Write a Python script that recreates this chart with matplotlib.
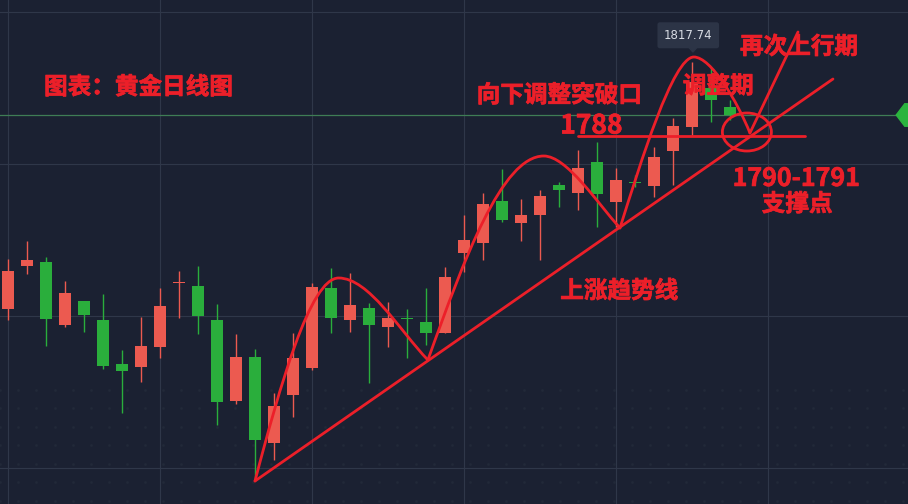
import numpy as np
import matplotlib.pyplot as plt
import matplotlib.patheffects as pe
from matplotlib.patches import Ellipse, Polygon, PathPatch
from matplotlib.path import Path

plt.rcParams['font.family'] = ['Noto Sans CJK SC', 'DejaVu Sans']

# daily candles (open, high, low, close)
opens = [1718.8, 1736.0, 1737.6, 1712.4, 1722.0, 1714.4, 1696.8, 1695.6, 1703.6, 1729.2,
         1728.0, 1714.4, 1682.0, 1699.6, 1665.2, 1684.4, 1695.2, 1727.2, 1714.4, 1719.2,
         1711.6, 1714.9, 1713.6, 1709.2, 1741.2, 1745.2, 1762.0, 1753.2, 1756.4, 1768.4,
         1765.2, 1777.6, 1761.6, 1769.3, 1768.0, 1782.0, 1791.6, 1807.2, 1799.6]
highs = [1738.8, 1746.0, 1739.6, 1730.0, 1722.0, 1724.8, 1702.4, 1715.6, 1727.2, 1734.0,
         1736.0, 1720.8, 1708.8, 1702.8, 1685.2, 1709.2, 1729.2, 1735.2, 1733.2, 1721.2,
         1721.6, 1718.8, 1727.2, 1735.6, 1756.4, 1765.2, 1774.8, 1762.8, 1766.4, 1769.6,
         1782.4, 1785.6, 1775.2, 1772.4, 1783.6, 1795.2, 1817.74, 1815.6, 1802.4]
lows = [1714.4, 1732.8, 1704.0, 1711.6, 1709.6, 1694.8, 1677.2, 1689.6, 1699.2, 1715.2,
        1708.8, 1672.4, 1680.8, 1650.0, 1658.4, 1675.6, 1694.4, 1709.2, 1709.6, 1689.2,
        1703.6, 1699.2, 1704.4, 1709.2, 1733.6, 1738.4, 1753.6, 1746.0, 1738.4, 1759.6,
        1758.4, 1751.6, 1751.6, 1767.6, 1763.6, 1768.4, 1788.4, 1793.6, 1794.4]
closes = [1734.0, 1738.4, 1714.8, 1725.2, 1716.4, 1696.0, 1694.0, 1704.0, 1720.0, 1729.4,
          1716.0, 1681.6, 1699.6, 1666.4, 1680.0, 1699.2, 1727.6, 1715.2, 1720.4, 1712.4,
          1715.2, 1714.8, 1709.2, 1731.6, 1746.4, 1760.8, 1754.4, 1756.4, 1764.0, 1766.4,
          1775.2, 1764.8, 1770.4, 1769.2, 1779.6, 1792.0, 1809.6, 1802.4, 1796.4]
last_price = 1796.4
tip_price = 1817.74
grid_prices = [1655.2, 1716.0, 1776.8, 1837.6]

# hand drawn arches: start, ctrl, ctrl, peak, ctrl, ctrl, end  (candle index, price)
arch1 = [(13.0, 1650.0), (14.3, 1687.6), (15.9, 1731.2), (17.4, 1731.2),
         (19.0, 1731.2), (20.6, 1710.3), (22.1, 1698.4)]
arch2 = [(22.1, 1698.4), (24.0, 1738.7), (26.0, 1780.0), (28.2, 1780.0),
         (29.4, 1780.0), (31.0, 1761.4), (32.21, 1751.2)]
arch3 = [(32.21, 1751.2), (33.3, 1777.4), (35.0, 1819.6), (36.1, 1819.6),
         (37.0, 1819.6), (38.4, 1801.7), (39.05, 1789.2)]
up_x = [39.05, 41.58]
up_y = [1789.2, 1829.6]
trend_x = [13.0, 43.42]
trend_y = [1650.0, 1810.8]
level_x = [30.0, 41.95]
level_y = [1788.0, 1788.0]

bg = '#1b2132'
up_col = '#ec5a50'
dn_col = '#2aae3c'
mark = '#ec1f29'

fig = plt.figure(figsize=(9.08, 5.04), dpi=100)
fig.patch.set_facecolor(bg)
ax = fig.add_axes([0, 0, 1, 1])
ax.set_facecolor(bg)
ax.set_xlim(-0.421, 47.37)
ax.set_ylim(1640.8, 1842.4)
ax.set_xticks([])
ax.set_yticks([])
for s in ax.spines.values():
    s.set_visible(False)

# faint dot pattern in the lower part
dx, dy = np.meshgrid(np.arange(-0.4, 47.5, 0.95), np.arange(1642, 1690, 7.4))
ax.scatter(dx.ravel(), dy.ravel(), s=4, color='#222939', lw=0, zorder=0)

for gx in [0, 8, 16, 24, 32, 40]:
    ax.axvline(gx, color='#2f3749', lw=0.8, zorder=1)
for gy in grid_prices:
    ax.axhline(gy, color='#2f3749', lw=0.8, zorder=1)
ax.axhline(last_price, color='#3f7d55', lw=0.9, zorder=1)

x = np.arange(len(opens))
o = np.array(opens); c = np.array(closes)
cols = [up_col if cc >= oo else dn_col for oo, cc in zip(opens, closes)]
ax.vlines(x, lows, highs, colors=cols, lw=1.0, zorder=2)
h = np.maximum(np.abs(c - o), 0.5)
ax.bar(x, h, bottom=np.minimum(o, c), width=0.62, color=cols, zorder=3)

# annotations
codes = [Path.MOVETO] + [Path.CURVE4] * 6
for arch in [arch1, arch2, arch3]:
    ax.add_patch(PathPatch(Path(arch, codes), fill=False, ec=mark, lw=2.0,
                           capstyle='round', joinstyle='round', zorder=5))
kw = dict(color=mark, lw=2.0, zorder=5, solid_capstyle='round')
ax.plot(up_x, up_y, **kw)
ax.plot(trend_x, trend_y, **kw)
ax.plot(level_x, level_y, **kw)
ax.add_patch(Ellipse((38.89, 1789.6), 2.58, 15.2, fill=False, ec=mark, lw=2.0, zorder=5))

# last price marker on the right edge
ax.add_patch(Polygon([[46.75, last_price], [47.2, last_price + 4.5], [47.6, last_price + 4.5],
                      [47.6, last_price - 4.5], [47.2, last_price - 4.5]],
                     closed=True, color='#2bb43e', zorder=4))

# tooltip
ax.text(0.758, 0.93, '%.2f' % tip_price, transform=ax.transAxes, ha='center', va='center',
        fontsize=8.5, color='#d8dce4', family=['DejaVu Sans'], zorder=6,
        bbox=dict(boxstyle='round,pad=0.55,rounding_size=0.2', fc='#2c3446', ec='none'))
ax.add_patch(Polygon([[35.75, 1824.2], [36.35, 1824.2], [36.05, 1821.6]], closed=True,
                     color='#2c3446', zorder=6))

thick = [pe.withStroke(linewidth=0.5, foreground=mark)]
tk = dict(transform=ax.transAxes, color=mark, fontweight='heavy', zorder=6, path_effects=thick)
ax.text(0.0485, 0.827, '图表：黄金日线图', ha='left', va='center', fontsize=17, **tk)
ax.text(0.525, 0.811, '向下调整突破口', ha='left', va='center', fontsize=17, **tk)
ax.text(0.617, 0.75, '1788', ha='left', va='center', fontsize=19, **tk)
ax.text(0.752, 0.829, '调整期', ha='left', va='center', fontsize=17, **tk)
ax.text(0.815, 0.907, '再次上行期', ha='left', va='center', fontsize=17, **tk)
ax.text(0.877, 0.645, '1790-1791', ha='center', va='center', fontsize=18, **tk)
ax.text(0.878, 0.595, '支撑点', ha='center', va='center', fontsize=17, **tk)
ax.text(0.617, 0.4226, '上涨趋势线', ha='left', va='center', fontsize=17, **tk)

plt.savefig('out.png', dpi=100, facecolor=bg)
